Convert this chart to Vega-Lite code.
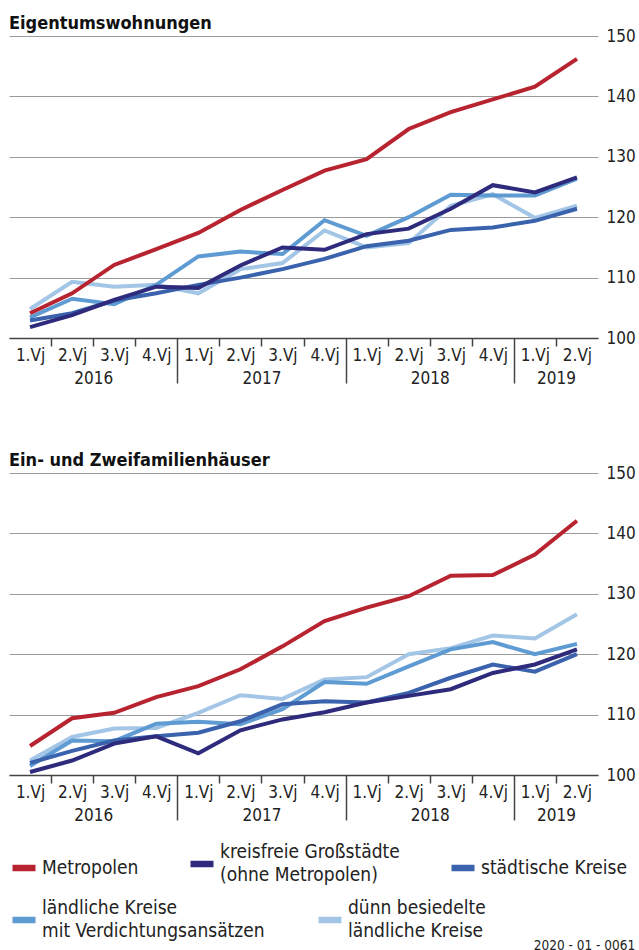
{
  "$schema": "https://vega.github.io/schema/vega-lite/v6.json",
  "padding": {"left": 9, "top": 15, "right": 3, "bottom": 0},
  "config": {
    "font": "DejaVu Sans Condensed",
    "view": {"stroke": null},
    "concat": {"spacing": 29},
    "style": {"guide-label": {"lineHeight": 23}}
  },
  "title": {"text": "2020 - 01 - 0061", "orient": "bottom", "anchor": "end", "fontSize": 13.5, "fontWeight": "normal", "color": "#222", "offset": -2},
  "datasets": {
    "top": [
      {"q": 1, "s": "dünn besiedelte ländliche Kreise", "v": 104.8},
      {"q": 2, "s": "dünn besiedelte ländliche Kreise", "v": 109.3},
      {"q": 3, "s": "dünn besiedelte ländliche Kreise", "v": 108.5},
      {"q": 4, "s": "dünn besiedelte ländliche Kreise", "v": 108.8},
      {"q": 5, "s": "dünn besiedelte ländliche Kreise", "v": 107.4},
      {"q": 6, "s": "dünn besiedelte ländliche Kreise", "v": 111.4},
      {"q": 7, "s": "dünn besiedelte ländliche Kreise", "v": 112.4},
      {"q": 8, "s": "dünn besiedelte ländliche Kreise", "v": 117.8},
      {"q": 9, "s": "dünn besiedelte ländliche Kreise", "v": 115.0},
      {"q": 10, "s": "dünn besiedelte ländliche Kreise", "v": 115.7},
      {"q": 11, "s": "dünn besiedelte ländliche Kreise", "v": 121.9},
      {"q": 12, "s": "dünn besiedelte ländliche Kreise", "v": 123.8},
      {"q": 13, "s": "dünn besiedelte ländliche Kreise", "v": 119.9},
      {"q": 14, "s": "dünn besiedelte ländliche Kreise", "v": 121.9},
      {"q": 1, "s": "ländliche Kreise mit Verdichtungsansätzen", "v": 103.4},
      {"q": 2, "s": "ländliche Kreise mit Verdichtungsansätzen", "v": 106.5},
      {"q": 3, "s": "ländliche Kreise mit Verdichtungsansätzen", "v": 105.6},
      {"q": 4, "s": "ländliche Kreise mit Verdichtungsansätzen", "v": 108.8},
      {"q": 5, "s": "ländliche Kreise mit Verdichtungsansätzen", "v": 113.5},
      {"q": 6, "s": "ländliche Kreise mit Verdichtungsansätzen", "v": 114.3},
      {"q": 7, "s": "ländliche Kreise mit Verdichtungsansätzen", "v": 113.9},
      {"q": 8, "s": "ländliche Kreise mit Verdichtungsansätzen", "v": 119.5},
      {"q": 9, "s": "ländliche Kreise mit Verdichtungsansätzen", "v": 116.9},
      {"q": 10, "s": "ländliche Kreise mit Verdichtungsansätzen", "v": 120.0},
      {"q": 11, "s": "ländliche Kreise mit Verdichtungsansätzen", "v": 123.7},
      {"q": 12, "s": "ländliche Kreise mit Verdichtungsansätzen", "v": 123.6},
      {"q": 13, "s": "ländliche Kreise mit Verdichtungsansätzen", "v": 123.6},
      {"q": 14, "s": "ländliche Kreise mit Verdichtungsansätzen", "v": 126.4},
      {"q": 1, "s": "städtische Kreise", "v": 102.9},
      {"q": 2, "s": "städtische Kreise", "v": 104.1},
      {"q": 3, "s": "städtische Kreise", "v": 106.2},
      {"q": 4, "s": "städtische Kreise", "v": 107.4},
      {"q": 5, "s": "städtische Kreise", "v": 108.8},
      {"q": 6, "s": "städtische Kreise", "v": 110.0},
      {"q": 7, "s": "städtische Kreise", "v": 111.4},
      {"q": 8, "s": "städtische Kreise", "v": 113.1},
      {"q": 9, "s": "städtische Kreise", "v": 115.2},
      {"q": 10, "s": "städtische Kreise", "v": 116.1},
      {"q": 11, "s": "städtische Kreise", "v": 117.9},
      {"q": 12, "s": "städtische Kreise", "v": 118.3},
      {"q": 13, "s": "städtische Kreise", "v": 119.4},
      {"q": 14, "s": "städtische Kreise", "v": 121.4},
      {"q": 1, "s": "kreisfreie Großstädte (ohne Metropolen)", "v": 101.8},
      {"q": 2, "s": "kreisfreie Großstädte (ohne Metropolen)", "v": 103.8},
      {"q": 3, "s": "kreisfreie Großstädte (ohne Metropolen)", "v": 106.3},
      {"q": 4, "s": "kreisfreie Großstädte (ohne Metropolen)", "v": 108.5},
      {"q": 5, "s": "kreisfreie Großstädte (ohne Metropolen)", "v": 108.3},
      {"q": 6, "s": "kreisfreie Großstädte (ohne Metropolen)", "v": 112.0},
      {"q": 7, "s": "kreisfreie Großstädte (ohne Metropolen)", "v": 115.0},
      {"q": 8, "s": "kreisfreie Großstädte (ohne Metropolen)", "v": 114.6},
      {"q": 9, "s": "kreisfreie Großstädte (ohne Metropolen)", "v": 117.2},
      {"q": 10, "s": "kreisfreie Großstädte (ohne Metropolen)", "v": 118.1},
      {"q": 11, "s": "kreisfreie Großstädte (ohne Metropolen)", "v": 121.4},
      {"q": 12, "s": "kreisfreie Großstädte (ohne Metropolen)", "v": 125.3},
      {"q": 13, "s": "kreisfreie Großstädte (ohne Metropolen)", "v": 124.1},
      {"q": 14, "s": "kreisfreie Großstädte (ohne Metropolen)", "v": 126.6},
      {"q": 1, "s": "Metropolen", "v": 104.1},
      {"q": 2, "s": "Metropolen", "v": 107.4},
      {"q": 3, "s": "Metropolen", "v": 112.1},
      {"q": 4, "s": "Metropolen", "v": 114.7},
      {"q": 5, "s": "Metropolen", "v": 117.4},
      {"q": 6, "s": "Metropolen", "v": 121.2},
      {"q": 7, "s": "Metropolen", "v": 124.5},
      {"q": 8, "s": "Metropolen", "v": 127.7},
      {"q": 9, "s": "Metropolen", "v": 129.6},
      {"q": 10, "s": "Metropolen", "v": 134.6},
      {"q": 11, "s": "Metropolen", "v": 137.4},
      {"q": 12, "s": "Metropolen", "v": 139.5},
      {"q": 13, "s": "Metropolen", "v": 141.6},
      {"q": 14, "s": "Metropolen", "v": 146.2}
    ],
    "bottom": [
      {"q": 1, "s": "dünn besiedelte ländliche Kreise", "v": 102.4},
      {"q": 2, "s": "dünn besiedelte ländliche Kreise", "v": 106.3},
      {"q": 3, "s": "dünn besiedelte ländliche Kreise", "v": 107.7},
      {"q": 4, "s": "dünn besiedelte ländliche Kreise", "v": 107.8},
      {"q": 5, "s": "dünn besiedelte ländliche Kreise", "v": 110.3},
      {"q": 6, "s": "dünn besiedelte ländliche Kreise", "v": 113.2},
      {"q": 7, "s": "dünn besiedelte ländliche Kreise", "v": 112.6},
      {"q": 8, "s": "dünn besiedelte ländliche Kreise", "v": 115.8},
      {"q": 9, "s": "dünn besiedelte ländliche Kreise", "v": 116.2},
      {"q": 10, "s": "dünn besiedelte ländliche Kreise", "v": 120.0},
      {"q": 11, "s": "dünn besiedelte ländliche Kreise", "v": 121.0},
      {"q": 12, "s": "dünn besiedelte ländliche Kreise", "v": 123.1},
      {"q": 13, "s": "dünn besiedelte ländliche Kreise", "v": 122.6},
      {"q": 14, "s": "dünn besiedelte ländliche Kreise", "v": 126.6},
      {"q": 1, "s": "ländliche Kreise mit Verdichtungsansätzen", "v": 101.5},
      {"q": 2, "s": "ländliche Kreise mit Verdichtungsansätzen", "v": 105.7},
      {"q": 3, "s": "ländliche Kreise mit Verdichtungsansätzen", "v": 105.6},
      {"q": 4, "s": "ländliche Kreise mit Verdichtungsansätzen", "v": 108.5},
      {"q": 5, "s": "ländliche Kreise mit Verdichtungsansätzen", "v": 108.8},
      {"q": 6, "s": "ländliche Kreise mit Verdichtungsansätzen", "v": 108.4},
      {"q": 7, "s": "ländliche Kreise mit Verdichtungsansätzen", "v": 110.9},
      {"q": 8, "s": "ländliche Kreise mit Verdichtungsansätzen", "v": 115.4},
      {"q": 9, "s": "ländliche Kreise mit Verdichtungsansätzen", "v": 115.1},
      {"q": 10, "s": "ländliche Kreise mit Verdichtungsansätzen", "v": 118.0},
      {"q": 11, "s": "ländliche Kreise mit Verdichtungsansätzen", "v": 120.8},
      {"q": 12, "s": "ländliche Kreise mit Verdichtungsansätzen", "v": 122.0},
      {"q": 13, "s": "ländliche Kreise mit Verdichtungsansätzen", "v": 120.0},
      {"q": 14, "s": "ländliche Kreise mit Verdichtungsansätzen", "v": 121.7},
      {"q": 1, "s": "städtische Kreise", "v": 102.0},
      {"q": 2, "s": "städtische Kreise", "v": 104.0},
      {"q": 3, "s": "städtische Kreise", "v": 105.7},
      {"q": 4, "s": "städtische Kreise", "v": 106.4},
      {"q": 5, "s": "städtische Kreise", "v": 107.0},
      {"q": 6, "s": "städtische Kreise", "v": 108.9},
      {"q": 7, "s": "städtische Kreise", "v": 111.7},
      {"q": 8, "s": "städtische Kreise", "v": 112.2},
      {"q": 9, "s": "städtische Kreise", "v": 112.0},
      {"q": 10, "s": "städtische Kreise", "v": 113.6},
      {"q": 11, "s": "städtische Kreise", "v": 116.1},
      {"q": 12, "s": "städtische Kreise", "v": 118.3},
      {"q": 13, "s": "städtische Kreise", "v": 117.1},
      {"q": 14, "s": "städtische Kreise", "v": 120.0},
      {"q": 1, "s": "kreisfreie Großstädte (ohne Metropolen)", "v": 100.5},
      {"q": 2, "s": "kreisfreie Großstädte (ohne Metropolen)", "v": 102.4},
      {"q": 3, "s": "kreisfreie Großstädte (ohne Metropolen)", "v": 105.2},
      {"q": 4, "s": "kreisfreie Großstädte (ohne Metropolen)", "v": 106.4},
      {"q": 5, "s": "kreisfreie Großstädte (ohne Metropolen)", "v": 103.6},
      {"q": 6, "s": "kreisfreie Großstädte (ohne Metropolen)", "v": 107.4},
      {"q": 7, "s": "kreisfreie Großstädte (ohne Metropolen)", "v": 109.2},
      {"q": 8, "s": "kreisfreie Großstädte (ohne Metropolen)", "v": 110.4},
      {"q": 9, "s": "kreisfreie Großstädte (ohne Metropolen)", "v": 112.0},
      {"q": 10, "s": "kreisfreie Großstädte (ohne Metropolen)", "v": 113.1},
      {"q": 11, "s": "kreisfreie Großstädte (ohne Metropolen)", "v": 114.2},
      {"q": 12, "s": "kreisfreie Großstädte (ohne Metropolen)", "v": 116.9},
      {"q": 13, "s": "kreisfreie Großstädte (ohne Metropolen)", "v": 118.3},
      {"q": 14, "s": "kreisfreie Großstädte (ohne Metropolen)", "v": 120.8},
      {"q": 1, "s": "Metropolen", "v": 104.8},
      {"q": 2, "s": "Metropolen", "v": 109.4},
      {"q": 3, "s": "Metropolen", "v": 110.3},
      {"q": 4, "s": "Metropolen", "v": 112.9},
      {"q": 5, "s": "Metropolen", "v": 114.7},
      {"q": 6, "s": "Metropolen", "v": 117.5},
      {"q": 7, "s": "Metropolen", "v": 121.3},
      {"q": 8, "s": "Metropolen", "v": 125.5},
      {"q": 9, "s": "Metropolen", "v": 127.7},
      {"q": 10, "s": "Metropolen", "v": 129.6},
      {"q": 11, "s": "Metropolen", "v": 133.0},
      {"q": 12, "s": "Metropolen", "v": 133.1},
      {"q": 13, "s": "Metropolen", "v": 136.5},
      {"q": 14, "s": "Metropolen", "v": 142.1}
    ]
  },
  "vconcat": [
    {
      "width": 589,
      "height": 302,
      "title": {"text": "Eigentumswohnungen", "anchor": "start", "fontSize": 18, "fontWeight": "bold", "color": "#111", "offset": -6},
      "data": {"name": "top"},
      "layer": [
        {
          "mark": {"type": "line", "strokeWidth": 4},
          "encoding": {
            "x": {"field": "q", "type": "quantitative", "scale": {"domain": [0.5, 14.5], "nice": false, "zero": false},
              "axis": {"orient": "bottom", "values": [1,2,3,4,5,6,7,8,9,10,11,12,13,14], "labelExpr": "['1.Vj','2.Vj','3.Vj','4.Vj'][(datum.value - 1) % 4]", "ticks": false, "domain": true, "domainColor": "#444", "domainWidth": 1.5, "labelPadding": 9, "labelFontSize": 17, "labelColor": "#222", "grid": false, "title": null, "labelFlush": false, "labelOverlap": false, "labelBaseline": "top"}},
            "y": {"field": "v", "type": "quantitative", "scale": {"domain": [100, 150], "nice": false, "zero": false},
              "axis": {"orient": "right", "values": [100,110,120,130,140,150], "grid": true, "gridColor": "#9a9a9a", "gridWidth": 1.2, "domain": false, "ticks": false, "labelPadding": 8, "labelFontSize": 17, "labelColor": "#222", "title": null}},
            "color": {"field": "s", "type": "nominal",
              "scale": {"domain": ["Metropolen", "kreisfreie Großstädte (ohne Metropolen)", "städtische Kreise", "ländliche Kreise mit Verdichtungsansätzen", "dünn besiedelte ländliche Kreise"], "range": ["#b82330", "#2e2a7c", "#3a62ad", "#5f9bd3", "#a3c6e7"]},
              "legend": {"orient": "none", "legendX": 0, "legendY": 813, "direction": "horizontal", "values": ["Metropolen", "kreisfreie Großstädte (ohne Metropolen)", "städtische Kreise"], "columnPadding": 38, "symbolType": "stroke", "symbolSize": 529, "symbolStrokeWidth": 6.5, "labelFontSize": 19, "labelColor": "#222", "labelLimit": 400, "labelOffset": 3, "title": null, "padding": 0,
                "labelBaseline": {"expr": "datum.value == 'kreisfreie Großstädte (ohne Metropolen)' ? 'line-bottom' : 'middle'"},
                "labelExpr": "datum.label == 'kreisfreie Großstädte (ohne Metropolen)' ? ['kreisfreie Großstädte', '(ohne Metropolen)'] : datum.label"}}
          }
        },
        {
          "mark": {"type": "point", "opacity": 0},
          "encoding": {
            "x": {"field": "q", "type": "quantitative",
              "axis": {"orient": "bottom", "values": [1.5,2.5,3.5,4.5,5.5,6.5,7.5,8.5,9.5,10.5,11.5,12.5,13.5], "labelExpr": "datum.value == 2.5 ? '2016' : datum.value == 6.5 ? '2017' : datum.value == 10.5 ? '2018' : datum.value == 13.5 ? '2019' : ''", "tickSize": {"condition": {"test": "datum.value == 4.5 || datum.value == 8.5 || datum.value == 12.5", "value": 45}, "value": 8}, "tickColor": "#444", "tickWidth": 1.5, "domain": false, "labelPadding": 24, "labelFontSize": 17, "labelColor": "#222", "grid": false, "title": null, "labelFlush": false, "labelOverlap": false, "labelBound": false, "labelBaseline": "top"}}
          }
        }
      ],
      "resolve": {"axis": {"x": "independent"}}
    },
    {
      "width": 589,
      "height": 302,
      "title": {"text": "Ein- und Zweifamilienhäuser", "anchor": "start", "fontSize": 18, "fontWeight": "bold", "color": "#111", "offset": -6},
      "data": {"name": "bottom"},
      "layer": [
        {
          "mark": {"type": "line", "strokeWidth": 4},
          "encoding": {
            "x": {"field": "q", "type": "quantitative", "scale": {"domain": [0.5, 14.5], "nice": false, "zero": false},
              "axis": {"orient": "bottom", "values": [1,2,3,4,5,6,7,8,9,10,11,12,13,14], "labelExpr": "['1.Vj','2.Vj','3.Vj','4.Vj'][(datum.value - 1) % 4]", "ticks": false, "domain": true, "domainColor": "#444", "domainWidth": 1.5, "labelPadding": 9, "labelFontSize": 17, "labelColor": "#222", "grid": false, "title": null, "labelFlush": false, "labelOverlap": false, "labelBaseline": "top"}},
            "y": {"field": "v", "type": "quantitative", "scale": {"domain": [100, 150], "nice": false, "zero": false},
              "axis": {"orient": "right", "values": [100,110,120,130,140,150], "grid": true, "gridColor": "#9a9a9a", "gridWidth": 1.2, "domain": false, "ticks": false, "labelPadding": 8, "labelFontSize": 17, "labelColor": "#222", "title": null}},
            "color": {"field": "s", "type": "nominal",
              "scale": {"domain": ["Metropolen", "kreisfreie Großstädte (ohne Metropolen)", "städtische Kreise", "ländliche Kreise mit Verdichtungsansätzen", "dünn besiedelte ländliche Kreise"], "range": ["#b82330", "#2e2a7c", "#3a62ad", "#5f9bd3", "#a3c6e7"]}}
          }
        },
        {
          "mark": {"type": "point", "opacity": 0},
          "encoding": {
            "x": {"field": "q", "type": "quantitative",
              "axis": {"orient": "bottom", "values": [1.5,2.5,3.5,4.5,5.5,6.5,7.5,8.5,9.5,10.5,11.5,12.5,13.5], "labelExpr": "datum.value == 2.5 ? '2016' : datum.value == 6.5 ? '2017' : datum.value == 10.5 ? '2018' : datum.value == 13.5 ? '2019' : ''", "tickSize": {"condition": {"test": "datum.value == 4.5 || datum.value == 8.5 || datum.value == 12.5", "value": 45}, "value": 8}, "tickColor": "#444", "tickWidth": 1.5, "domain": false, "labelPadding": 24, "labelFontSize": 17, "labelColor": "#222", "grid": false, "title": null, "labelFlush": false, "labelOverlap": false, "labelBound": false, "labelBaseline": "top"}},
            "stroke": {"field": "s", "type": "nominal",
              "scale": {"domain": ["ländliche Kreise mit Verdichtungsansätzen", "dünn besiedelte ländliche Kreise"], "range": ["#5f9bd3", "#a3c6e7"]},
              "legend": {"orient": "none", "legendX": 0, "legendY": 869, "direction": "horizontal", "columnPadding": 40, "symbolType": "stroke", "symbolSize": 529, "symbolStrokeWidth": 6.5, "symbolOpacity": 1, "labelFontSize": 19, "labelColor": "#222", "labelLimit": 400, "labelOffset": 3, "title": null, "padding": 0, "labelBaseline": "line-bottom",
                "labelExpr": "datum.label == 'ländliche Kreise mit Verdichtungsansätzen' ? ['ländliche Kreise', 'mit Verdichtungsansätzen'] : ['dünn besiedelte', 'ländliche Kreise']"}}
          }
        }
      ],
      "resolve": {"axis": {"x": "independent"}}
    }
  ]
}
